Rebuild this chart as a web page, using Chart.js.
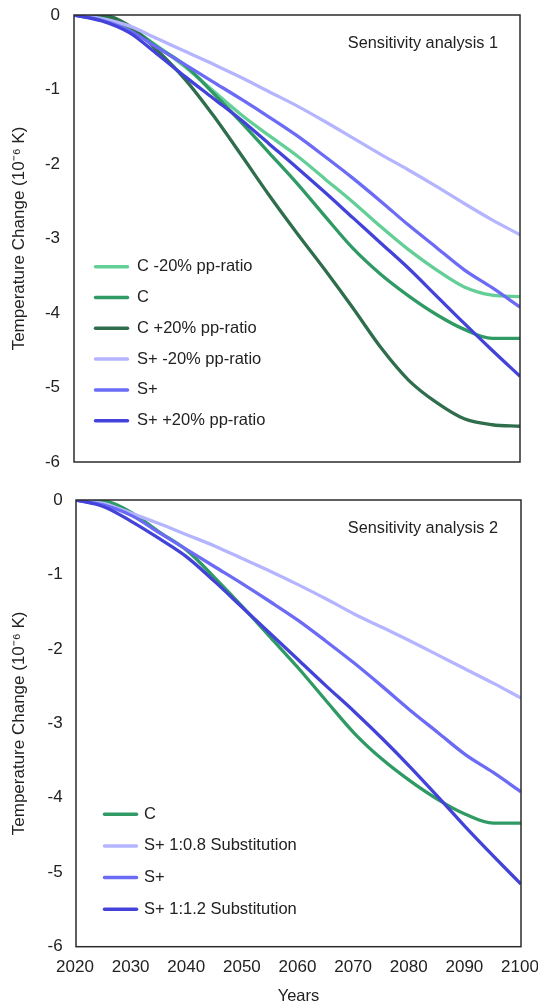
<!DOCTYPE html>
<html>
<head>
<meta charset="utf-8">
<script src="https://cdn.jsdelivr.net/npm/chart.js@4.4.1/dist/chart.umd.min.js"></script>
<style>
  body { margin: 0; background: #fff; }
  canvas { display: block; }
</style>
</head>
<body>
<canvas id="chartTop" width="538" height="480"></canvas>
<canvas id="chartBottom" width="538" height="527"></canvas>
<script>
// x values shared by every run
const years = [2020, 2025, 2030, 2035, 2040, 2045, 2050, 2055, 2060, 2065, 2070, 2075, 2080, 2085, 2090, 2095, 2100];

// temperature change, 10^-6 K
const cLow   = [0, -0.02, -0.17, -0.42, -0.70, -1.02, -1.34, -1.62, -1.89, -2.20, -2.51, -2.84, -3.15, -3.42, -3.65, -3.76, -3.78];
const cBase  = [0, -0.01, -0.17, -0.43, -0.68, -1.05, -1.44, -1.85, -2.26, -2.70, -3.13, -3.48, -3.77, -4.02, -4.22, -4.34, -4.34];
const cHigh  = [0, 0, -0.15, -0.48, -0.87, -1.35, -1.88, -2.42, -2.93, -3.42, -3.93, -4.46, -4.90, -5.20, -5.42, -5.50, -5.52];
const sLow   = [0, -0.05, -0.15, -0.32, -0.49, -0.66, -0.84, -1.03, -1.22, -1.43, -1.65, -1.87, -2.08, -2.30, -2.53, -2.75, -2.95];
const sBase  = [0, -0.07, -0.21, -0.44, -0.67, -0.90, -1.13, -1.37, -1.62, -1.90, -2.19, -2.50, -2.82, -3.12, -3.42, -3.66, -3.92];
const sHigh  = [0, -0.08, -0.24, -0.53, -0.83, -1.12, -1.41, -1.73, -2.05, -2.38, -2.72, -3.06, -3.40, -3.77, -4.14, -4.50, -4.85];
const sub08  = [0, -0.05, -0.18, -0.32, -0.47, -0.62, -0.79, -0.96, -1.14, -1.33, -1.53, -1.71, -1.89, -2.08, -2.27, -2.46, -2.66];
const sub12  = [0, -0.09, -0.29, -0.52, -0.77, -1.10, -1.45, -1.80, -2.15, -2.50, -2.84, -3.20, -3.58, -3.98, -4.39, -4.78, -5.16];

const yTicks = [0, -1, -2, -3, -4, -5, -6];
const xTicks = [2020, 2030, 2040, 2050, 2060, 2070, 2080, 2090, 2100];

const colors = {
  cLow: '#63cf96',
  cBase: '#2f9a64',
  cHigh: '#2f6e4c',
  sLow: '#b5b5ff',
  sBase: '#6b6bf6',
  sHigh: '#4343d9'
};

const FONT = "Arial, 'Liberation Sans', sans-serif";
Chart.defaults.font.family = FONT;
Chart.defaults.font.size = 16.5;
Chart.defaults.color = '#222';

function series(label, values, color) {
  return {
    label,
    data: values.map((v, i) => ({ x: years[i], y: v })),
    borderColor: color,
    backgroundColor: color,
    borderWidth: 3.3,
    borderJoinStyle: 'round',
    pointRadius: 0,
    cubicInterpolationMode: 'monotone',
    fill: false
  };
}

// plot frame, corner note and the legend drawn inside the plot
const boxPlugin = {
  id: 'box',
  afterDatasetsDraw(chart, args, opts) {
    const { ctx, chartArea: a } = chart;
    ctx.save();
    ctx.strokeStyle = '#2b2b2b';
    ctx.lineWidth = 1.5;
    ctx.strokeRect(a.left, a.top, a.right - a.left, a.bottom - a.top);

    ctx.fillStyle = '#222';
    ctx.font = `16.3px ${FONT}`;
    ctx.textAlign = 'right';
    ctx.textBaseline = 'middle';
    ctx.fillText(opts.note, a.right - opts.noteRight, a.top + opts.noteTop);

    ctx.font = `16.5px ${FONT}`;
    ctx.textAlign = 'left';
    ctx.lineCap = 'round';
    chart.data.datasets.forEach((ds, i) => {
      const y = a.top + opts.legendTop + i * opts.legendStep;
      const x0 = a.left + opts.legendX;
      ctx.strokeStyle = ds.borderColor;
      ctx.lineWidth = 3.5;
      ctx.beginPath();
      ctx.moveTo(x0 + 1.5, y);
      ctx.lineTo(x0 + 33.5, y);
      ctx.stroke();
      ctx.fillText(ds.label, x0 + opts.textGap, y);
    });
    ctx.restore();
  }
};

function buildChart(id, datasets, cfg) {
  const n = datasets.length;
  datasets.forEach((ds, i) => { ds.order = n - i; });
  return new Chart(document.getElementById(id), {
    type: 'line',
    data: { datasets },
    options: {
      responsive: false,
      animation: false,
      layout: { padding: cfg.padding },
      plugins: {
        legend: { display: false },
        tooltip: { enabled: false },
        box: cfg.box
      },
      scales: {
        x: {
          type: 'linear',
          min: xTicks[0],
          max: xTicks[xTicks.length - 1],
          grid: { display: false, drawTicks: false },
          border: { display: false },
          ticks: {
            display: cfg.showYears,
            stepSize: 10,
            padding: 10,
            labelOffset: -1,
            font: { size: 17 },
            callback: v => String(v)
          },
          title: {
            display: cfg.showYears,
            text: 'Years',
            padding: { top: 0, bottom: 1 }
          },
          afterFit: s => { s.height = cfg.xHeight; s.paddingLeft = 0; s.paddingRight = 0; }
        },
        y: {
          min: yTicks[yTicks.length - 1],
          max: yTicks[0],
          grid: { display: false, drawTicks: false },
          border: { display: false },
          ticks: { stepSize: 1, padding: cfg.tickGap, font: { size: 17 } },
          title: {
            display: true,
            text: 'Temperature Change (10\u207B\u2076 K)',
            font: { size: 17 },
            padding: { top: 9, bottom: 0 }
          },
          afterFit: s => { s.width = cfg.yWidth; s.paddingTop = 0; s.paddingBottom = 0; }
        }
      }
    },
    plugins: [boxPlugin]
  });
}

buildChart('chartTop', [
  series('C -20% pp-ratio', cLow, colors.cLow),
  series('C', cBase, colors.cBase),
  series('C +20% pp-ratio', cHigh, colors.cHigh),
  series('S+ -20% pp-ratio', sLow, colors.sLow),
  series('S+', sBase, colors.sBase),
  series('S+ +20% pp-ratio', sHigh, colors.sHigh)
], {
  padding: { top: 15, right: 18, bottom: 0, left: 0 },
  yWidth: 74,
  xHeight: 18,
  tickGap: 14,
  showYears: false,
  box: {
    note: 'Sensitivity analysis 1',
    noteRight: 22, noteTop: 28.5,
    legendX: 20, legendTop: 251.7, legendStep: 30.8, textGap: 43
  }
});

buildChart('chartBottom', [
  series('C', cBase, colors.cBase),
  series('S+ 1:0.8 Substitution', sub08, colors.sLow),
  series('S+', sBase, colors.sBase),
  series('S+ 1:1.2 Substitution', sub12, colors.sHigh)
], {
  padding: { top: 20, right: 17, bottom: 0, left: 0 },
  yWidth: 76,
  xHeight: 60.3,
  tickGap: 13.3,
  showYears: true,
  box: {
    note: 'Sensitivity analysis 2',
    noteRight: 23, noteTop: 29,
    legendX: 27, legendTop: 314.2, legendStep: 31.7, textGap: 41
  }
});
</script>
</body>
</html>
